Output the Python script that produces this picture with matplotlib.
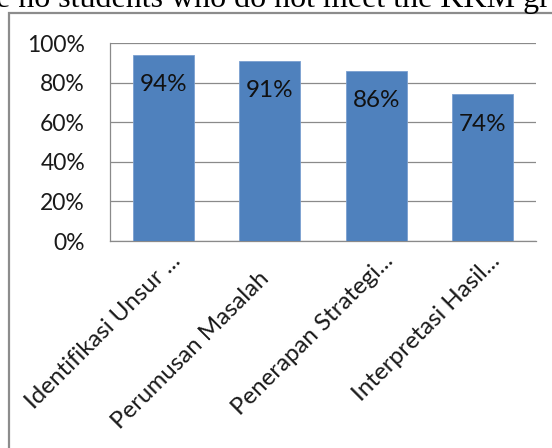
import matplotlib
matplotlib.use("Agg")
import matplotlib.pyplot as plt
import matplotlib.patches as mpatches
from matplotlib.transforms import ScaledTranslation
import numpy as np

categories = ["Identifikasi Unsur ...", "Perumusan Masalah", "Penerapan Strategi...", "Interpretasi Hasil..."]
values = [94, 91, 86, 74]
yticks = [0, 20, 40, 60, 80, 100]
ytick_labels = ["0%", "20%", "40%", "60%", "80%", "100%"]
caption = "e no students who do not meet the KKM gr"

W, H, DPI = 552, 448, 100
fig = plt.figure(figsize=(W / DPI, H / DPI), dpi=DPI)
fig.patch.set_facecolor("white")

# caption cut off at top (from surrounding document)
fig.text(-4 / W, (H - 7) / H, caption, fontsize=23, family="Liberation Serif",
         color="black", va="baseline", ha="left")

# chart outer frame
frame = mpatches.Rectangle((9 / W, -0.2), 1.2, 1.2 - 13 / H, transform=fig.transFigure,
                           fill=False, edgecolor="#8c8c8c", linewidth=1.6, clip_on=False)
fig.patches.append(frame)

left, right, top, bottom = 110, 536, 43, 241
ax = fig.add_axes([left / W, 1 - bottom / H, (right - left) / W, (bottom - top) / H])

x = np.arange(len(categories))
ax.bar(x, values, width=0.57, color="#4F81BD", edgecolor="#7A9FD0", linewidth=0.6, zorder=3)

ax.set_xlim(-0.5, len(categories) - 0.5)
ax.set_ylim(0, 100)
ax.set_yticks(yticks)
ax.set_yticklabels(ytick_labels, family="Lato", fontsize=16.5, color="#1a1a1a")
ax.tick_params(axis="y", length=0, pad=18)
ax.set_xticks([])
ax.grid(axis="y", color="#8a8a8a", linewidth=0.9, zorder=0)
ax.set_axisbelow(True)
for s in ["top", "right"]:
    ax.spines[s].set_visible(False)
for s in ["left", "bottom"]:
    ax.spines[s].set_color("#8a8a8a")
    ax.spines[s].set_linewidth(0.9)

# data labels inside end
for xi, v in zip(x, values):
    ax.annotate(f"{v}%", (xi, v), xytext=(0, -30 * 72 / DPI), textcoords="offset points",
                ha="center", va="center", family="Lato", fontsize=17.5, color="#111111", zorder=4)

# rotated category labels
label_shift = [0, -18, 0, 0]
for xi, lab, sh in zip(x, categories, label_shift):
    dx = (18.5 + sh) / DPI
    dy = (-21 + sh) / DPI
    tr = ax.get_xaxis_transform() + ScaledTranslation(dx, dy, fig.dpi_scale_trans)
    ax.text(xi, 0, lab, transform=tr, rotation=45, rotation_mode="anchor",
            ha="right", va="baseline", family="Lato", fontsize=17.3, color="#1a1a1a")

fig.savefig("out.png", dpi=DPI)
